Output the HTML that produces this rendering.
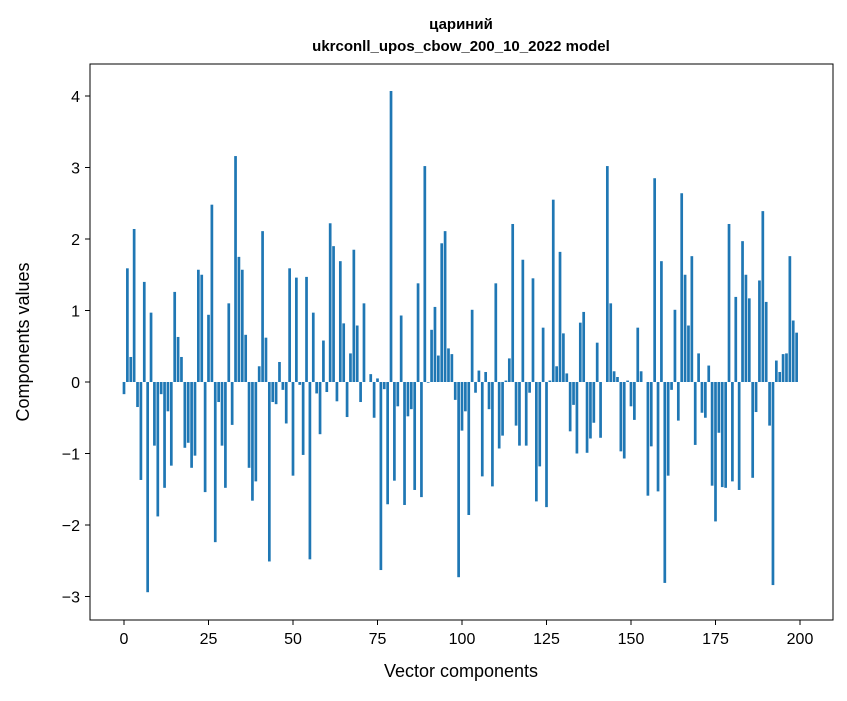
<!DOCTYPE html>
<html><head><meta charset="utf-8"><style>
body{margin:0;background:#fff;font-family:"Liberation Sans","DejaVu Sans",sans-serif}
svg text{font-family:"Liberation Sans","DejaVu Sans",sans-serif}
</style></head><body>
<svg id="chart" width="847" height="696" xmlns="http://www.w3.org/2000/svg">
<rect width="847" height="696" fill="#fff"/>
<text x="461" y="29" text-anchor="middle" font-size="15" font-weight="bold">цариний</text>
<text x="461" y="51" text-anchor="middle" font-size="15" font-weight="bold">ukrconll_upos_cbow_200_10_2022 model</text>
<g id="bars"></g>
<g id="xticks"></g>
<g id="yticks"></g>
<rect x="90" y="64" width="743" height="556" fill="none" stroke="#000" stroke-width="1"/>
<text x="461" y="677" text-anchor="middle" font-size="18">Vector components</text>
<text transform="translate(29,342) rotate(-90)" text-anchor="middle" font-size="18">Components values</text>
</svg>
<script>
const values = [
-0.17,1.59,0.35,2.14,-0.35,-1.37,1.40,-2.94,0.97,-0.89,
-1.88,-0.17,-1.48,-0.41,-1.17,1.26,0.63,0.35,-0.92,-0.85,
-1.20,-1.03,1.57,1.50,-1.54,0.94,2.48,-2.24,-0.28,-0.89,
-1.48,1.10,-0.60,3.16,1.75,1.57,0.66,-1.20,-1.66,-1.39,
0.22,2.11,0.62,-2.51,-0.28,-0.31,0.28,-0.11,-0.58,1.59,
-1.31,1.46,-0.04,-1.02,1.47,-2.48,0.97,-0.16,-0.73,0.58,
-0.14,2.22,1.90,-0.27,1.69,0.82,-0.49,0.40,1.85,0.79,
-0.28,1.10,0.00,0.11,-0.50,0.05,-2.63,-0.10,-1.71,4.07,
-1.38,-0.34,0.93,-1.72,-0.48,-0.38,-1.51,1.38,-1.61,3.02,
-0.01,0.73,1.05,0.37,1.94,2.11,0.47,0.39,-0.25,-2.73,
-0.68,-0.41,-1.86,1.01,-0.15,0.16,-1.32,0.14,-0.38,-1.46,
1.38,-0.93,-0.75,0.02,0.33,2.21,-0.61,-0.89,1.71,-0.89,
-0.15,1.45,-1.67,-1.18,0.76,-1.75,0.02,2.55,0.22,1.82,
0.68,0.12,-0.69,-0.32,-1.00,0.83,0.98,-0.99,-0.79,-0.57,
0.55,-0.78,0.00,3.02,1.10,0.15,0.07,-0.97,-1.07,0.02,
-0.34,-0.53,0.76,0.15,0.00,-1.59,-0.90,2.85,-1.53,1.69,
-2.81,-1.31,-0.11,1.01,-0.54,2.64,1.50,0.79,1.76,-0.88,
0.40,-0.43,-0.50,0.23,-1.45,-1.95,-0.71,-1.47,-1.48,2.21,
-1.39,1.19,-1.51,1.97,1.50,1.17,-1.34,-0.42,1.42,2.39,
1.12,-0.61,-2.84,0.30,0.14,0.39,0.40,1.76,0.86,0.69
];
const xTickLabels = [0,25,50,75,100,125,150,175,200];
const yTickLabels = [-3,-2,-1,0,1,2,3,4];
const NS="http://www.w3.org/2000/svg";
function xs(v){return 124 + v*(676/200);}
function ys(v){return 382 - v*71.5;}
const bars=document.getElementById('bars');
values.forEach((v,i)=>{
  const r=document.createElementNS(NS,'rect');
  const w=0.8*676/200;
  r.setAttribute('x',xs(i)-w/2);
  r.setAttribute('y',Math.min(ys(v),ys(0)));
  r.setAttribute('width',w);
  r.setAttribute('height',Math.abs(ys(v)-ys(0)));
  r.setAttribute('fill','#1f77b4');
  
  
  bars.appendChild(r);
});
const xt=document.getElementById('xticks');
xTickLabels.forEach(t=>{
  const l=document.createElementNS(NS,'line');
  l.setAttribute('x1',xs(t));l.setAttribute('x2',xs(t));
  l.setAttribute('y1',620);l.setAttribute('y2',625);
  l.setAttribute('stroke','#000');
  
  
  xt.appendChild(l);
  const tx=document.createElementNS(NS,'text');
  tx.setAttribute('x',xs(t));tx.setAttribute('y',644);
  tx.setAttribute('text-anchor','middle');tx.setAttribute('font-size','16');
  tx.textContent=String(t);
  
  
  xt.appendChild(tx);
});
const yt=document.getElementById('yticks');
yTickLabels.forEach(t=>{
  const l=document.createElementNS(NS,'line');
  l.setAttribute('x1',85);l.setAttribute('x2',90);
  l.setAttribute('y1',ys(t));l.setAttribute('y2',ys(t));
  l.setAttribute('stroke','#000');
  
  
  yt.appendChild(l);
  const tx=document.createElementNS(NS,'text');
  tx.setAttribute('x',80);tx.setAttribute('y',ys(t)+6);
  tx.setAttribute('text-anchor','end');tx.setAttribute('font-size','16');
  tx.textContent=(t<0?'\u2212'+Math.abs(t):String(t));
  
  
  yt.appendChild(tx);
});
</script>
</body></html>
